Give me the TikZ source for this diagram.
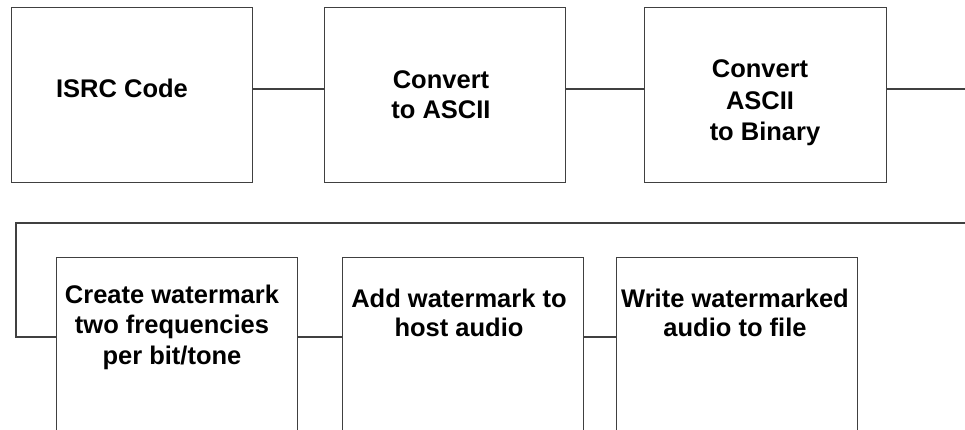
\documentclass[tikz,border=0pt]{standalone}
\usepackage{fontspec}
\setmainfont{Liberation Sans}
\begin{document}
\begin{tikzpicture}[x=1pt,y=-1pt,
  box/.style={draw=linegray,line width=1.1pt,rectangle,anchor=north west,inner sep=0pt},
  lbl/.style={font=\bfseries\fontsize{25.5}{30.5}\selectfont,align=center,inner sep=0pt,text=black},
  conn/.style={draw=linegray,line width=1.1pt}]
\definecolor{linegray}{HTML}{404040}
\useasboundingbox (0,0) rectangle (965,429);
\clip (0,0) rectangle (965,429);
% top row
\node[box,minimum width=241pt,minimum height=175pt] (b1) at (11,7) {};
\node[box,minimum width=241pt,minimum height=175pt] (b2) at (324,7) {};
\node[box,minimum width=242pt,minimum height=175pt] (b3) at (644,7) {};
% bottom row
\node[box,minimum width=241pt,minimum height=180pt] (b4) at (56,257) {};
\node[box,minimum width=241pt,minimum height=180pt] (b5) at (342,257) {};
\node[box,minimum width=241pt,minimum height=180pt] (b6) at (616,257) {};
% labels
\node[lbl] (t1) at (122,88) {ISRC Code};
\node[lbl,font=\bfseries\fontsize{25.5}{30}\selectfont] (t2) at (441,95) {Convert\\to ASCII};
\node[lbl,font=\bfseries\fontsize{25.5}{31.5}\selectfont] (t3) at (760,103) {Convert\\ASCII\\\hspace*{10pt}to Binary};
\node[lbl] (t4) at (172,327) {Create watermark\\two frequencies\\per bit/tone};
\node[lbl,font=\bfseries\fontsize{25.5}{29.5}\selectfont] (t5) at (459,313) {Add watermark to\\host audio};
\node[lbl,font=\bfseries\fontsize{25.5}{29.5}\selectfont] (t6) at (735,313) {Write watermarked\\audio to file};
% connector helpers
\coordinate (r1) at (0,89);
\coordinate (r2) at (0,337);
\coordinate (e1) at (965,89);
\coordinate (e2) at (965,223);
\coordinate (c2) at (16,223);
% connectors
\draw[conn] (b1.east |- r1) -- (b2.west |- r1);
\draw[conn] (b2.east |- r1) -- (b3.west |- r1);
\draw[conn] (b3.east |- r1) -- (e1);
\draw[conn] (e2) -- (c2) |- (b4.west |- r2);
\draw[conn] (b4.east |- r2) -- (b5.west |- r2);
\draw[conn] (b5.east |- r2) -- (b6.west |- r2);
\end{tikzpicture}
\end{document}
